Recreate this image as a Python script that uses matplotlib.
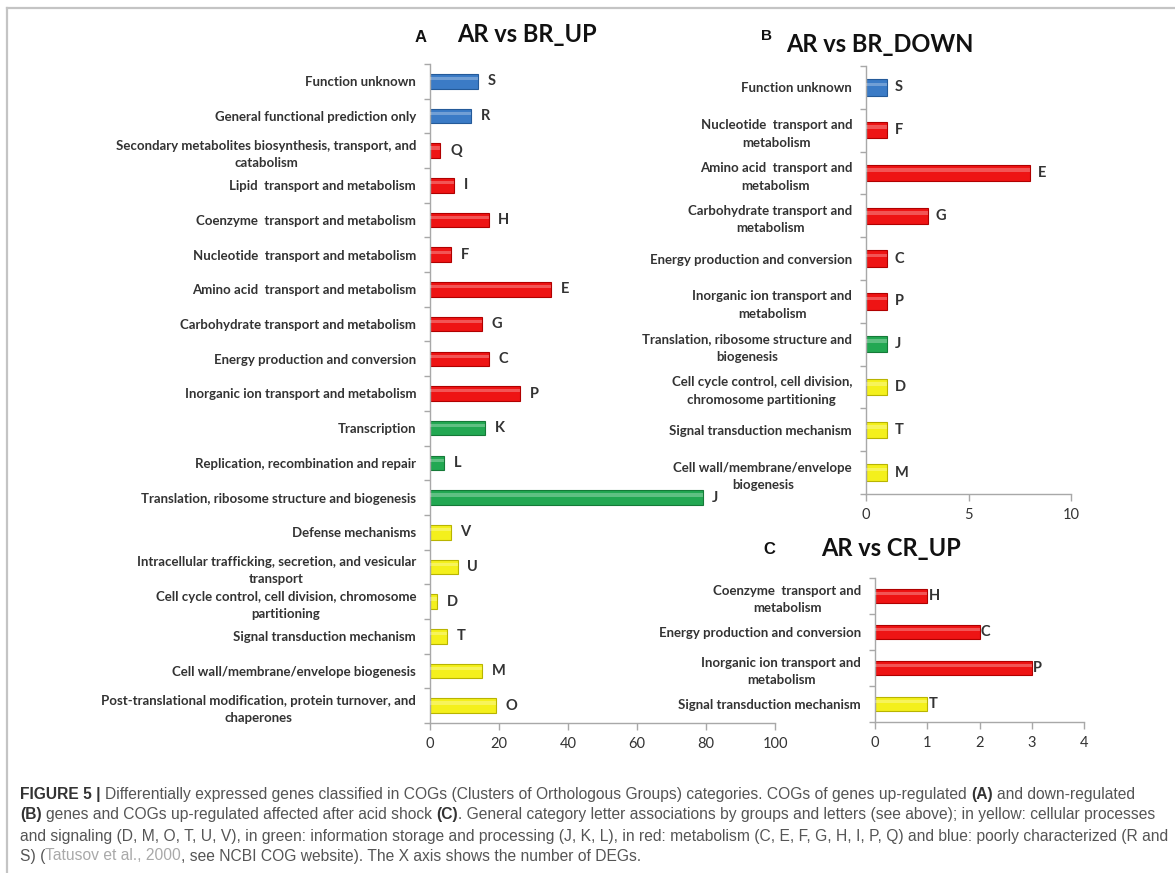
import numpy as np
import matplotlib
matplotlib.use("Agg")
import matplotlib.pyplot as plt
from matplotlib.lines import Line2D

plt.rcParams['font.family'] = ['Lato', 'Liberation Sans', 'DejaVu Sans']

# COG letter -> functional group colour
group_color = {
    'blue': '#3b7bc6', 'red': '#ee1414', 'green': '#22a852', 'yellow': '#f4f01c',
}
group_edge = {
    'blue': '#245a99', 'red': '#b00000', 'green': '#157a38', 'yellow': '#b8b400',
}
cog_group = {
    'S': 'blue', 'R': 'blue',
    'Q': 'red', 'I': 'red', 'H': 'red', 'F': 'red', 'E': 'red', 'G': 'red', 'C': 'red', 'P': 'red',
    'K': 'green', 'L': 'green', 'J': 'green',
    'V': 'yellow', 'U': 'yellow', 'D': 'yellow', 'T': 'yellow', 'M': 'yellow', 'O': 'yellow',
}

# panel A: AR vs BR_UP
up_letters = ['S', 'R', 'Q', 'I', 'H', 'F', 'E', 'G', 'C', 'P', 'K', 'L', 'J',
              'V', 'U', 'D', 'T', 'M', 'O']
up_labels = [
    'Function unknown',
    'General functional prediction only',
    'Secondary metabolites biosynthesis, transport, and\ncatabolism',
    'Lipid  transport and metabolism',
    'Coenzyme  transport and metabolism',
    'Nucleotide  transport and metabolism',
    'Amino acid  transport and metabolism',
    'Carbohydrate transport and metabolism',
    'Energy production and conversion',
    'Inorganic ion transport and metabolism',
    'Transcription',
    'Replication, recombination and repair',
    'Translation, ribosome structure and biogenesis',
    'Defense mechanisms',
    'Intracellular trafficking, secretion, and vesicular\ntransport',
    'Cell cycle control, cell division, chromosome\npartitioning',
    'Signal transduction mechanism',
    'Cell wall/membrane/envelope biogenesis',
    'Post-translational modification, protein turnover, and\nchaperones',
]
up_counts = [14, 12, 3, 7, 17, 6, 35, 15, 17, 26, 16, 4, 79, 6, 8, 2, 5, 15, 19]

# panel B: AR vs BR_DOWN
down_letters = ['S', 'F', 'E', 'G', 'C', 'P', 'J', 'D', 'T', 'M']
down_labels = [
    'Function unknown',
    'Nucleotide  transport and\nmetabolism',
    'Amino acid  transport and\nmetabolism',
    'Carbohydrate transport and\nmetabolism',
    'Energy production and conversion',
    'Inorganic ion transport and\nmetabolism',
    'Translation, ribosome structure and\nbiogenesis',
    'Cell cycle control, cell division,\nchromosome partitioning',
    'Signal transduction mechanism',
    'Cell wall/membrane/envelope\nbiogenesis',
]
down_counts = [1, 1, 8, 3, 1, 1, 1, 1, 1, 1]

# panel C: AR vs CR_UP
cr_letters = ['H', 'C', 'P', 'T']
cr_labels = [
    'Coenzyme  transport and\nmetabolism',
    'Energy production and conversion',
    'Inorganic ion transport and\nmetabolism',
    'Signal transduction mechanism',
]
cr_counts = [1, 2, 3, 1]

TXT = '#333333'
AXC = '#a8a8a8'


def cog_panel(ax, letters, labels, counts, xmax, xstep, letter_gap, bar_h=0.42):
    n = len(letters)
    y = np.arange(n)
    fc = [group_color[cog_group[c]] for c in letters]
    ec = [group_edge[cog_group[c]] for c in letters]
    ax.barh(y, counts, height=bar_h, color=fc, edgecolor=ec, linewidth=0.8, zorder=2)
    # light stripe for the glossy look
    ax.barh(y - bar_h * 0.18, counts, height=bar_h * 0.22, color='white',
            alpha=0.28, linewidth=0, zorder=3)
    for yi, v, c in zip(y, counts, letters):
        ax.annotate(c, (v, yi), xytext=(letter_gap, 0), textcoords='offset points',
                    ha='left', va='center', fontsize=10.5, fontweight='bold', color=TXT)
    ax.set_ylim(n - 0.5, -0.5)
    ax.set_xlim(0, xmax)
    ax.set_xticks(np.arange(0, xmax + 0.01, xstep))
    ax.set_yticks(y)
    ax.set_yticklabels(labels, multialignment='center', fontsize=9.5,
                       fontweight='bold', color=TXT, linespacing=1.55)
    ax.set_yticks(np.arange(-0.5, n, 1), minor=True)
    ax.tick_params(axis='y', which='major', length=0, pad=10)
    ax.tick_params(axis='y', which='minor', length=4, color=AXC, width=1)
    ax.tick_params(axis='x', length=5, color=AXC, width=1, labelsize=10.5,
                   labelcolor=TXT, pad=5)
    for s in ('top', 'right'):
        ax.spines[s].set_visible(False)
    for s in ('left', 'bottom'):
        ax.spines[s].set_color(AXC)
        ax.spines[s].set_linewidth(1)


fig = plt.figure(figsize=(11.75, 8.73), dpi=100)
W, H = 1175.0, 873.0


def px_axes(x0, y0, x1, y1):
    return fig.add_axes([x0 / W, 1 - y1 / H, (x1 - x0) / W, (y1 - y0) / H])


axA = px_axes(430, 64, 775, 723)
cog_panel(axA, up_letters, up_labels, up_counts, 100, 20, 7, bar_h=0.42)

axB = px_axes(866, 66, 1071, 494)
cog_panel(axB, down_letters, down_labels, down_counts, 10, 5, 6, bar_h=0.38)

axC = px_axes(875, 578, 1084, 722)
cog_panel(axC, cr_letters, cr_labels, cr_counts, 4, 1, 1, bar_h=0.4)


def fig_text(x, y, s, **kw):
    return fig.text(x / W, 1 - y / H, s, **kw)


# panel titles
fig_text(421, 37, 'A', fontsize=12, fontweight='bold', ha='center', va='center',
         family=['Liberation Sans', 'DejaVu Sans'], color='#111111')
fig_text(527, 35, 'AR vs BR_UP', fontsize=17, fontweight='bold', ha='center',
         va='center', color='#111111')
fig_text(767, 36, 'B', fontsize=11, fontweight='bold', ha='center', va='center',
         family=['Liberation Sans', 'DejaVu Sans'], color='#111111')
fig_text(880, 45, 'AR vs BR_DOWN', fontsize=17, fontweight='bold', ha='center',
         va='center', color='#111111')
fig_text(769, 549, 'C', fontsize=12, fontweight='bold', ha='center', va='center',
         family=['Liberation Sans', 'DejaVu Sans'], color='#111111')
fig_text(891, 549, 'AR vs CR_UP', fontsize=17, fontweight='bold', ha='center',
         va='center', color='#111111')

# frame around the figure
fig.add_artist(Line2D([7 / W, 1], [1 - 8 / H, 1 - 8 / H], color='#c4c4c4', lw=1.6))
fig.add_artist(Line2D([7 / W, 7 / W], [0, 1 - 8 / H], color='#c4c4c4', lw=1.6))

# caption, written piece by piece so bold and link parts can be styled
CAP_SIZE = 11.25
CAP_FONT = ['Liberation Sans', 'DejaVu Sans']
styles = {
    'reg': dict(color='#555555', fontweight='normal'),
    'bold': dict(color='#333333', fontweight='bold'),
    'link': dict(color='#a9a9a9', fontweight='normal'),
}
caption = [
    [('FIGURE 5 |', 'bold'),
     (' Differentially expressed genes classified in COGs (Clusters of Orthologous Groups) '
      'categories. COGs of genes up-regulated ', 'reg'),
     ('(A)', 'bold'), (' and down-regulated', 'reg')],
    [('(B)', 'bold'), (' genes and COGs up-regulated affected after acid shock ', 'reg'),
     ('(C)', 'bold'),
     ('. General category letter associations by groups and letters (see above); in yellow: '
      'cellular processes', 'reg')],
    [('and signaling (D, M, O, T, U, V), in green: information storage and processing '
      '(J, K, L), in red: metabolism (C, E, F, G, H, I, P, Q) and blue: poorly characterized '
      '(R and', 'reg')],
    [('S) (', 'reg'), ('Tatusov et al., 2000', 'link'),
     (', see NCBI COG website). The X axis shows the number of DEGs.', 'reg')],
]
caption_y = [794, 815, 836, 856]

renderer = fig.canvas.get_renderer()
probe_a = fig.text(0, 0, 'xx', fontsize=CAP_SIZE, family=CAP_FONT)
probe_b = fig.text(0, 0, 'x x', fontsize=CAP_SIZE, family=CAP_FONT)
space_px = probe_b.get_window_extent(renderer).width - probe_a.get_window_extent(renderer).width
probe_a.remove()
probe_b.remove()

for parts, yy in zip(caption, caption_y):
    x = 20.0
    for s, st in parts:
        lead = len(s) - len(s.lstrip(' '))
        trail = len(s) - len(s.rstrip(' '))
        x += lead * space_px
        t = fig_text(x, yy, s.strip(' '), fontsize=CAP_SIZE, ha='left', va='center',
                     family=CAP_FONT, **styles[st])
        x += t.get_window_extent(renderer).width + trail * space_px

fig.savefig('out.png', dpi=100)
